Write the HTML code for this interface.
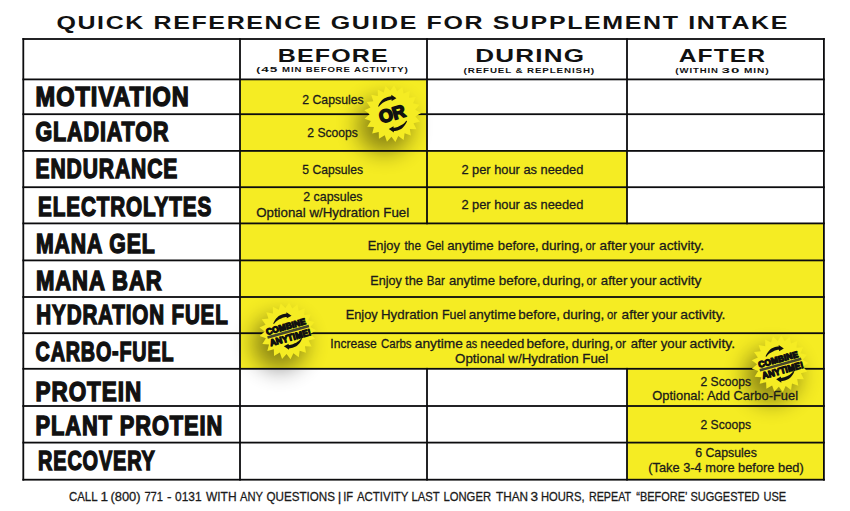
<!DOCTYPE html>
<html><head><meta charset="utf-8"><title>Quick Reference Guide for Supplement Intake</title>
<style>
html,body{margin:0;padding:0;background:#fff;width:850px;height:511px;overflow:hidden}
svg{display:block}
.lab{font-family:"Liberation Sans",sans-serif;font-weight:700;fill:#111;stroke:#111;stroke-width:1.5px;stroke-linejoin:miter}
.bod{font-family:"Liberation Sans",sans-serif;font-weight:400;fill:#1a1a1a;stroke:#1a1a1a;stroke-width:0.3px}
.hd{font-family:"Liberation Sans",sans-serif;font-weight:700;fill:#111}
.sub{font-family:"Liberation Sans",sans-serif;font-weight:700;fill:#111}
.bd{font-family:"Liberation Sans",sans-serif;font-weight:700;fill:#111}
</style></head><body>
<svg width="850" height="511" viewBox="0 0 850 511">
<defs>
<filter id="blur" x="-1" y="-1" width="3" height="3"><feGaussianBlur stdDeviation="11"/></filter>
</defs>
<rect x="0" y="0" width="850" height="511" fill="#fff"/>

<rect x="240.00" y="79.40" width="187.00" height="144.00" fill="#F5EC23"/>
<rect x="427.00" y="150.90" width="200.00" height="72.50" fill="#F5EC23"/>
<rect x="240.00" y="223.40" width="583.90" height="145.40" fill="#F5EC23"/>
<rect x="627.00" y="368.80" width="196.90" height="110.90" fill="#F5EC23"/>
<circle cx="384.6" cy="125.7" r="27" fill="#000" opacity="0.43" filter="url(#blur)"/>
<circle cx="279.7" cy="343.0" r="27" fill="#000" opacity="0.43" filter="url(#blur)"/>
<circle cx="772.0" cy="375.8" r="27" fill="#000" opacity="0.43" filter="url(#blur)"/>
<rect x="22.40" y="38.10" width="802.40" height="1.80" fill="#0c0c0e"/>
<rect x="22.40" y="78.50" width="802.40" height="1.80" fill="#0c0c0e"/>
<rect x="22.40" y="113.30" width="802.40" height="1.80" fill="#0c0c0e"/>
<rect x="22.40" y="150.00" width="802.40" height="1.80" fill="#0c0c0e"/>
<rect x="22.40" y="186.30" width="802.40" height="1.80" fill="#0c0c0e"/>
<rect x="22.40" y="222.50" width="802.40" height="1.80" fill="#0c0c0e"/>
<rect x="22.40" y="259.50" width="802.40" height="1.80" fill="#0c0c0e"/>
<rect x="22.40" y="296.10" width="802.40" height="1.80" fill="#0c0c0e"/>
<rect x="22.40" y="332.30" width="802.40" height="1.80" fill="#0c0c0e"/>
<rect x="22.40" y="367.90" width="802.40" height="1.80" fill="#0c0c0e"/>
<rect x="22.40" y="405.10" width="802.40" height="1.80" fill="#0c0c0e"/>
<rect x="22.40" y="441.70" width="802.40" height="1.80" fill="#0c0c0e"/>
<rect x="22.40" y="478.80" width="802.40" height="1.80" fill="#0c0c0e"/>
<rect x="22.40" y="38.10" width="1.80" height="442.50" fill="#0c0c0e"/>
<rect x="239.10" y="38.10" width="1.80" height="442.50" fill="#0c0c0e"/>
<rect x="426.10" y="38.10" width="1.80" height="186.20" fill="#0c0c0e"/>
<rect x="426.10" y="367.90" width="1.80" height="112.70" fill="#0c0c0e"/>
<rect x="626.10" y="38.10" width="1.80" height="186.20" fill="#0c0c0e"/>
<rect x="626.10" y="367.90" width="1.80" height="112.70" fill="#0c0c0e"/>
<rect x="823.00" y="38.10" width="1.80" height="442.50" fill="#0c0c0e"/>
<text id="title" class="hd" x="56.40" y="29.30" font-size="18.4" textLength="732.62" lengthAdjust="spacingAndGlyphs" letter-spacing="1.2">QUICK REFERENCE GUIDE FOR SUPPLEMENT INTAKE</text>
<text id="head0" class="hd" x="277.88" y="61.80" font-size="17.8" textLength="110.92" lengthAdjust="spacingAndGlyphs" letter-spacing="0.8">BEFORE</text>
<text id="head1" class="hd" x="475.31" y="61.80" font-size="17.8" textLength="109.84" lengthAdjust="spacingAndGlyphs" letter-spacing="0.8">DURING</text>
<text id="head2" class="hd" x="678.65" y="61.80" font-size="17.8" textLength="87.55" lengthAdjust="spacingAndGlyphs" letter-spacing="0.8">AFTER</text>
<text id="sub0a" class="sub" x="256.38" y="72.30" letter-spacing="0.6" textLength="22.01" lengthAdjust="spacingAndGlyphs"><tspan font-size="7.0">(</tspan><tspan font-size="8.0">45</tspan></text>
<text id="sub0b" class="sub" x="282.10" y="72.30" letter-spacing="0.6" textLength="126.73" lengthAdjust="spacingAndGlyphs"><tspan font-size="6.7">MIN BEFORE ACTIVITY</tspan><tspan font-size="7.0">)</tspan></text>
<text id="sub1" class="sub" x="463.48" y="72.50" letter-spacing="0.6" textLength="131.66" lengthAdjust="spacingAndGlyphs"><tspan font-size="7.0">(</tspan><tspan font-size="6.7">REFUEL &amp; REPLENISH</tspan><tspan font-size="7.0">)</tspan></text>
<text id="sub2a" class="sub" x="675.39" y="72.50" letter-spacing="0.6" textLength="43.27" lengthAdjust="spacingAndGlyphs"><tspan font-size="7.0">(</tspan><tspan font-size="6.7">WITHIN</tspan></text>
<text id="sub2b" class="sub" x="721.51" y="72.50" letter-spacing="0.6" textLength="18.98" lengthAdjust="spacingAndGlyphs"><tspan font-size="8.0">30</tspan></text>
<text id="sub2c" class="sub" x="744.08" y="72.50" letter-spacing="0.6" textLength="25.53" lengthAdjust="spacingAndGlyphs"><tspan font-size="6.7">MIN</tspan><tspan font-size="7.0">)</tspan></text>
<text id="lab0" class="lab" x="35.56" y="106.20" font-size="28.4" textLength="154.27" lengthAdjust="spacingAndGlyphs" letter-spacing="1.2">MOTIVATION</text>
<text id="lab1" class="lab" x="35.38" y="140.90" font-size="28.4" textLength="133.94" lengthAdjust="spacingAndGlyphs" letter-spacing="1.2">GLADIATOR</text>
<text id="lab2" class="lab" x="35.57" y="178.00" font-size="28.4" textLength="142.65" lengthAdjust="spacingAndGlyphs" letter-spacing="1.2">ENDURANCE</text>
<text id="lab3" class="lab" x="38.08" y="215.90" font-size="28.4" textLength="174.04" lengthAdjust="spacingAndGlyphs" letter-spacing="1.2">ELECTROLYTES</text>
<text id="lab4" class="lab" x="35.88" y="253.00" font-size="28.4" textLength="119.85" lengthAdjust="spacingAndGlyphs" letter-spacing="1.2">MANA GEL</text>
<text id="lab5" class="lab" x="35.88" y="290.20" font-size="28.4" textLength="126.75" lengthAdjust="spacingAndGlyphs" letter-spacing="1.2">MANA BAR</text>
<text id="lab6" class="lab" x="36.37" y="324.20" font-size="28.4" textLength="192.25" lengthAdjust="spacingAndGlyphs" letter-spacing="1.2">HYDRATION FUEL</text>
<text id="lab7" class="lab" x="35.58" y="360.60" font-size="28.4" textLength="138.75" lengthAdjust="spacingAndGlyphs" letter-spacing="1.2">CARBO-FUEL</text>
<text id="lab8" class="lab" x="35.55" y="400.50" font-size="28.4" textLength="106.57" lengthAdjust="spacingAndGlyphs" letter-spacing="1.2">PROTEIN</text>
<text id="lab9" class="lab" x="35.57" y="434.70" font-size="28.4" textLength="187.66" lengthAdjust="spacingAndGlyphs" letter-spacing="1.2">PLANT PROTEIN</text>
<text id="lab10" class="lab" x="38.07" y="470.10" font-size="28.4" textLength="117.66" lengthAdjust="spacingAndGlyphs" letter-spacing="1.2">RECOVERY</text>
<text id="bod0" class="bod" x="302.26" y="104.00" font-size="13.6" textLength="61.39" lengthAdjust="spacingAndGlyphs">2 Capsules</text>
<text id="bod1" class="bod" x="307.35" y="137.20" font-size="13.6" textLength="50.58" lengthAdjust="spacingAndGlyphs">2 Scoops</text>
<text id="bod2" class="bod" x="302.37" y="173.90" font-size="13.6" textLength="60.77" lengthAdjust="spacingAndGlyphs">5 Capsules</text>
<text id="bod3" class="bod" x="303.28" y="201.00" font-size="13.6" textLength="59.25" lengthAdjust="spacingAndGlyphs">2 capsules</text>
<text id="bod4" class="bod" x="256.20" y="216.60" font-size="13.6" textLength="153.01" lengthAdjust="spacingAndGlyphs">Optional w/Hydration Fuel</text>
<text id="bod5" class="bod" x="461.39" y="173.50" font-size="13.6" textLength="122.02" lengthAdjust="spacingAndGlyphs">2 per hour as needed</text>
<text id="bod6" class="bod" x="461.39" y="209.30" font-size="13.6" textLength="122.02" lengthAdjust="spacingAndGlyphs">2 per hour as needed</text>
<text id="bod11" class="bod" x="455.08" y="363.20" font-size="13.6" textLength="153.13" lengthAdjust="spacingAndGlyphs">Optional w/Hydration Fuel</text>
<text id="bod12" class="bod" x="700.46" y="385.60" font-size="13.6" textLength="50.54" lengthAdjust="spacingAndGlyphs">2 Scoops</text>
<text id="bod13" class="bod" x="652.29" y="400.20" font-size="13.6" textLength="145.82" lengthAdjust="spacingAndGlyphs">Optional: Add Carbo-Fuel</text>
<text id="bod14" class="bod" x="700.46" y="429.20" font-size="13.6" textLength="50.54" lengthAdjust="spacingAndGlyphs">2 Scoops</text>
<text id="bod15" class="bod" x="695.19" y="457.40" font-size="13.6" textLength="61.65" lengthAdjust="spacingAndGlyphs">6 Capsules</text>
<text id="bod16" class="bod" x="648.28" y="471.60" font-size="13.6" textLength="155.44" lengthAdjust="spacingAndGlyphs">(Take 3-4 more before bed)</text>
<text id="wg0" class="bod" x="367.72" y="250.10" font-size="13.6" textLength="32.17" lengthAdjust="spacingAndGlyphs">Enjoy</text>
<text id="wg1" class="bod" x="404.55" y="250.10" font-size="13.6" textLength="16.45" lengthAdjust="spacingAndGlyphs">the</text>
<text id="wg2" class="bod" x="426.11" y="250.10" font-size="13.6" textLength="17.80" lengthAdjust="spacingAndGlyphs">Gel</text>
<text id="wg3" class="bod" x="447.17" y="250.10" font-size="13.6" textLength="46.46" lengthAdjust="spacingAndGlyphs">anytime</text>
<text id="wg4" class="bod" x="497.86" y="250.10" font-size="13.6" textLength="40.81" lengthAdjust="spacingAndGlyphs">before,</text>
<text id="wg5" class="bod" x="541.45" y="250.10" font-size="13.6" textLength="41.58" lengthAdjust="spacingAndGlyphs">during,</text>
<text id="wg6" class="bod" x="585.60" y="250.10" font-size="13.6" textLength="9.92" lengthAdjust="spacingAndGlyphs">or</text>
<text id="wg7" class="bod" x="599.56" y="250.10" font-size="13.6" textLength="27.27" lengthAdjust="spacingAndGlyphs">after</text>
<text id="wg8" class="bod" x="629.46" y="250.10" font-size="13.6" textLength="25.19" lengthAdjust="spacingAndGlyphs">your</text>
<text id="wg9" class="bod" x="659.00" y="250.10" font-size="13.6" textLength="45.02" lengthAdjust="spacingAndGlyphs">activity.</text>
<text id="wb0" class="bod" x="370.36" y="284.70" font-size="13.6" textLength="31.44" lengthAdjust="spacingAndGlyphs">Enjoy</text>
<text id="wb1" class="bod" x="405.11" y="284.70" font-size="13.6" textLength="17.89" lengthAdjust="spacingAndGlyphs">the</text>
<text id="wb2" class="bod" x="426.87" y="284.70" font-size="13.6" textLength="17.89" lengthAdjust="spacingAndGlyphs">Bar</text>
<text id="wb3" class="bod" x="449.00" y="284.70" font-size="13.6" textLength="46.01" lengthAdjust="spacingAndGlyphs">anytime</text>
<text id="wb4" class="bod" x="498.74" y="284.70" font-size="13.6" textLength="41.83" lengthAdjust="spacingAndGlyphs">before,</text>
<text id="wb5" class="bod" x="542.36" y="284.70" font-size="13.6" textLength="42.01" lengthAdjust="spacingAndGlyphs">during,</text>
<text id="wb6" class="bod" x="586.61" y="284.70" font-size="13.6" textLength="9.85" lengthAdjust="spacingAndGlyphs">or</text>
<text id="wb7" class="bod" x="600.85" y="284.70" font-size="13.6" textLength="26.44" lengthAdjust="spacingAndGlyphs">after</text>
<text id="wb8" class="bod" x="630.34" y="284.70" font-size="13.6" textLength="26.23" lengthAdjust="spacingAndGlyphs">your</text>
<text id="wb9" class="bod" x="659.25" y="284.70" font-size="13.6" textLength="42.29" lengthAdjust="spacingAndGlyphs">activity</text>
<text id="wh0" class="bod" x="345.65" y="318.80" font-size="13.6" textLength="32.07" lengthAdjust="spacingAndGlyphs">Enjoy</text>
<text id="wh1" class="bod" x="380.98" y="318.80" font-size="13.6" textLength="57.09" lengthAdjust="spacingAndGlyphs">Hydration</text>
<text id="wh2" class="bod" x="441.90" y="318.80" font-size="13.6" textLength="24.19" lengthAdjust="spacingAndGlyphs">Fuel</text>
<text id="wh3" class="bod" x="468.75" y="318.80" font-size="13.6" textLength="47.20" lengthAdjust="spacingAndGlyphs">anytime</text>
<text id="wh4" class="bod" x="518.25" y="318.80" font-size="13.6" textLength="41.80" lengthAdjust="spacingAndGlyphs">before,</text>
<text id="wh5" class="bod" x="562.74" y="318.80" font-size="13.6" textLength="41.60" lengthAdjust="spacingAndGlyphs">during,</text>
<text id="wh6" class="bod" x="607.00" y="318.80" font-size="13.6" textLength="10.03" lengthAdjust="spacingAndGlyphs">or</text>
<text id="wh7" class="bod" x="621.56" y="318.80" font-size="13.6" textLength="27.27" lengthAdjust="spacingAndGlyphs">after</text>
<text id="wh8" class="bod" x="651.70" y="318.80" font-size="13.6" textLength="25.56" lengthAdjust="spacingAndGlyphs">your</text>
<text id="wh9" class="bod" x="680.27" y="318.80" font-size="13.6" textLength="45.16" lengthAdjust="spacingAndGlyphs">activity.</text>
<text id="wc0" class="bod" x="330.37" y="348.00" font-size="13.6" textLength="46.35" lengthAdjust="spacingAndGlyphs">Increase</text>
<text id="wc1" class="bod" x="381.00" y="348.00" font-size="13.6" textLength="30.55" lengthAdjust="spacingAndGlyphs">Carbs</text>
<text id="wc2" class="bod" x="414.76" y="348.00" font-size="13.6" textLength="48.11" lengthAdjust="spacingAndGlyphs">anytime</text>
<text id="wc3" class="bod" x="465.75" y="348.00" font-size="13.6" textLength="11.37" lengthAdjust="spacingAndGlyphs">as</text>
<text id="wc4" class="bod" x="480.25" y="348.00" font-size="13.6" textLength="44.00" lengthAdjust="spacingAndGlyphs">needed</text>
<text id="wc5" class="bod" x="526.45" y="348.00" font-size="13.6" textLength="42.30" lengthAdjust="spacingAndGlyphs">before,</text>
<text id="wc6" class="bod" x="571.68" y="348.00" font-size="13.6" textLength="41.58" lengthAdjust="spacingAndGlyphs">during,</text>
<text id="wc7" class="bod" x="615.28" y="348.00" font-size="13.6" textLength="10.69" lengthAdjust="spacingAndGlyphs">or</text>
<text id="wc8" class="bod" x="630.69" y="348.00" font-size="13.6" textLength="26.26" lengthAdjust="spacingAndGlyphs">after</text>
<text id="wc9" class="bod" x="660.72" y="348.00" font-size="13.6" textLength="25.64" lengthAdjust="spacingAndGlyphs">your</text>
<text id="wc10" class="bod" x="689.54" y="348.00" font-size="13.6" textLength="45.63" lengthAdjust="spacingAndGlyphs">activity.</text>
<text id="foot0" class="bod" x="68.93" y="501.10" font-size="13.6" textLength="28.58" lengthAdjust="spacingAndGlyphs">CALL</text>
<text id="foot1" class="bod" x="100.41" y="501.10" font-size="13.6">1</text>
<text id="foot2" class="bod" x="110.41" y="501.10" font-size="13.6" textLength="30.15" lengthAdjust="spacingAndGlyphs">(800)</text>
<text id="foot3" class="bod" x="144.41" y="501.10" font-size="13.6" textLength="18.63" lengthAdjust="spacingAndGlyphs">771</text>
<text id="foot4" class="bod" x="167.07" y="501.10" font-size="13.6">-</text>
<text id="foot5" class="bod" x="175.00" y="501.10" font-size="13.6" textLength="26.57" lengthAdjust="spacingAndGlyphs">0131</text>
<text id="foot6" class="bod" x="205.96" y="501.10" font-size="13.6" textLength="30.57" lengthAdjust="spacingAndGlyphs">WITH</text>
<text id="foot7" class="bod" x="240.00" y="501.10" font-size="13.6" textLength="23.08" lengthAdjust="spacingAndGlyphs">ANY</text>
<text id="foot8" class="bod" x="266.48" y="501.10" font-size="13.6" textLength="68.52" lengthAdjust="spacingAndGlyphs">QUESTIONS</text>
<text id="foot9" class="bod" x="337.77" y="501.10" font-size="13.6">|</text>
<text id="foot10" class="bod" x="343.25" y="501.10" font-size="13.6" textLength="9.88" lengthAdjust="spacingAndGlyphs">IF</text>
<text id="foot11" class="bod" x="356.96" y="501.10" font-size="13.6" textLength="51.55" lengthAdjust="spacingAndGlyphs">ACTIVITY</text>
<text id="foot12" class="bod" x="411.46" y="501.10" font-size="13.6" textLength="28.11" lengthAdjust="spacingAndGlyphs">LAST</text>
<text id="foot13" class="bod" x="443.47" y="501.10" font-size="13.6" textLength="47.57" lengthAdjust="spacingAndGlyphs">LONGER</text>
<text id="foot14" class="bod" x="495.97" y="501.10" font-size="13.6" textLength="32.06" lengthAdjust="spacingAndGlyphs">THAN</text>
<text id="foot15" class="bod" x="530.51" y="501.10" font-size="13.6">3</text>
<text id="foot16" class="bod" x="540.98" y="501.10" font-size="13.6" textLength="43.57" lengthAdjust="spacingAndGlyphs">HOURS,</text>
<text id="foot17" class="bod" x="588.93" y="501.10" font-size="13.6" textLength="42.12" lengthAdjust="spacingAndGlyphs">REPEAT</text>
<text id="foot18" class="bod" x="636.30" y="501.10" font-size="13.6" textLength="51.13" lengthAdjust="spacingAndGlyphs">“BEFORE’</text>
<text id="foot19" class="bod" x="690.48" y="501.10" font-size="13.6" textLength="69.05" lengthAdjust="spacingAndGlyphs">SUGGESTED</text>
<text id="foot20" class="bod" x="763.45" y="501.10" font-size="13.6" textLength="22.66" lengthAdjust="spacingAndGlyphs">USE</text>
<g transform="translate(392.6,113.7)"><polygon points="1.42,-28.46 4.56,-22.54 9.75,-26.78 11.00,-20.20 17.21,-22.72 16.47,-16.06 23.14,-16.63 20.47,-10.49 27.02,-9.07 22.65,-3.99 28.49,-0.71 22.82,2.86 27.43,7.72 20.96,9.46 23.94,15.47 17.24,15.22 18.32,21.83 11.99,19.63 11.07,26.26 5.67,22.29 2.83,28.36 -1.15,22.97 -5.65,27.93 -7.87,21.61 -13.63,25.03 -13.89,18.33 -20.40,19.90 -18.68,13.42 -25.36,13.00 -21.80,7.32 -28.07,4.95 -22.99,0.57 -28.28,-3.55 -22.14,-6.23 -25.98,-11.73 -19.32,-12.48 -21.37,-18.86 -14.78,-17.62 -14.86,-24.32 -8.93,-21.20 -7.03,-27.62 -2.29,-22.89" fill="#F5EC23"/><path d="M-14.45,-7.36 L-14.00,-8.48 L-13.47,-9.58 L-12.85,-10.65 L-12.15,-11.67 L-11.36,-12.65 L-10.50,-13.58 L-9.56,-14.45 L-8.54,-15.22 L-7.39,-15.81 L-6.21,-16.31 L-5.00,-16.72 L-3.76,-17.04 L-2.49,-17.27 L-1.22,-17.41 L-1.32,-18.85 L3.82,-15.33 L-0.89,-12.67 L-0.99,-14.12 L-2.02,-14.00 L-3.05,-13.82 L-4.05,-13.56 L-5.04,-13.22 L-6.00,-12.82 L-6.92,-12.34 L-7.88,-11.90 L-8.83,-11.42 L-9.75,-10.86 L-10.64,-10.22 L-11.48,-9.51 L-12.28,-8.74 L-13.02,-7.89 L-13.71,-6.99 Z" fill="#111"/><path d="M14.45,7.36 L14.00,8.48 L13.47,9.58 L12.85,10.65 L12.15,11.67 L11.36,12.65 L10.50,13.58 L9.56,14.45 L8.54,15.22 L7.39,15.81 L6.21,16.31 L5.00,16.72 L3.76,17.04 L2.49,17.27 L1.22,17.41 L1.32,18.85 L-3.82,15.33 L0.89,12.67 L0.99,14.12 L2.02,14.00 L3.05,13.82 L4.05,13.56 L5.04,13.22 L6.00,12.82 L6.92,12.34 L7.88,11.90 L8.83,11.42 L9.75,10.86 L10.64,10.22 L11.48,9.51 L12.28,8.74 L13.02,7.89 L13.71,6.99 Z" fill="#111"/><g transform="rotate(-16)"><text class="bd" x="-0.5" y="6.2" font-size="17.8" text-anchor="middle" textLength="26.8" lengthAdjust="spacingAndGlyphs" stroke="#111" stroke-width="1.6" stroke-linejoin="round">OR</text></g></g>
<g transform="translate(287.7,331.0)"><polygon points="1.42,-28.46 4.56,-22.54 9.75,-26.78 11.00,-20.20 17.21,-22.72 16.47,-16.06 23.14,-16.63 20.47,-10.49 27.02,-9.07 22.65,-3.99 28.49,-0.71 22.82,2.86 27.43,7.72 20.96,9.46 23.94,15.47 17.24,15.22 18.32,21.83 11.99,19.63 11.07,26.26 5.67,22.29 2.83,28.36 -1.15,22.97 -5.65,27.93 -7.87,21.61 -13.63,25.03 -13.89,18.33 -20.40,19.90 -18.68,13.42 -25.36,13.00 -21.80,7.32 -28.07,4.95 -22.99,0.57 -28.28,-3.55 -22.14,-6.23 -25.98,-11.73 -19.32,-12.48 -21.37,-18.86 -14.78,-17.62 -14.86,-24.32 -8.93,-21.20 -7.03,-27.62 -2.29,-22.89" fill="#F5EC23"/><path d="M-14.45,-7.36 L-14.00,-8.48 L-13.47,-9.58 L-12.85,-10.65 L-12.15,-11.67 L-11.36,-12.65 L-10.50,-13.58 L-9.56,-14.45 L-8.54,-15.22 L-7.39,-15.81 L-6.21,-16.31 L-5.00,-16.72 L-3.76,-17.04 L-2.49,-17.27 L-1.22,-17.41 L-1.32,-18.85 L3.82,-15.33 L-0.89,-12.67 L-0.99,-14.12 L-2.02,-14.00 L-3.05,-13.82 L-4.05,-13.56 L-5.04,-13.22 L-6.00,-12.82 L-6.92,-12.34 L-7.88,-11.90 L-8.83,-11.42 L-9.75,-10.86 L-10.64,-10.22 L-11.48,-9.51 L-12.28,-8.74 L-13.02,-7.89 L-13.71,-6.99 Z" fill="#111"/><path d="M14.45,7.36 L14.00,8.48 L13.47,9.58 L12.85,10.65 L12.15,11.67 L11.36,12.65 L10.50,13.58 L9.56,14.45 L8.54,15.22 L7.39,15.81 L6.21,16.31 L5.00,16.72 L3.76,17.04 L2.49,17.27 L1.22,17.41 L1.32,18.85 L-3.82,15.33 L0.89,12.67 L0.99,14.12 L2.02,14.00 L3.05,13.82 L4.05,13.56 L5.04,13.22 L6.00,12.82 L6.92,12.34 L7.88,11.90 L8.83,11.42 L9.75,10.86 L10.64,10.22 L11.48,9.51 L12.28,8.74 L13.02,7.89 L13.71,6.99 Z" fill="#111"/><g transform="rotate(-15.5)"><text class="bd" x="-0.6" y="-1.7" font-size="8.7" text-anchor="middle" textLength="41" lengthAdjust="spacingAndGlyphs" stroke="#111" stroke-width="1.2" stroke-linejoin="round">COMBINE</text><rect x="-21.2" y="-0.4" width="43" height="2.6" fill="#44442e"/><text class="bd" x="0.8" y="10.2" font-size="9.3" text-anchor="middle" textLength="42.5" lengthAdjust="spacingAndGlyphs" stroke="#111" stroke-width="1.2" stroke-linejoin="round">ANYTIME!</text></g></g>
<g transform="translate(780.0,363.8)"><polygon points="1.42,-28.46 4.56,-22.54 9.75,-26.78 11.00,-20.20 17.21,-22.72 16.47,-16.06 23.14,-16.63 20.47,-10.49 27.02,-9.07 22.65,-3.99 28.49,-0.71 22.82,2.86 27.43,7.72 20.96,9.46 23.94,15.47 17.24,15.22 18.32,21.83 11.99,19.63 11.07,26.26 5.67,22.29 2.83,28.36 -1.15,22.97 -5.65,27.93 -7.87,21.61 -13.63,25.03 -13.89,18.33 -20.40,19.90 -18.68,13.42 -25.36,13.00 -21.80,7.32 -28.07,4.95 -22.99,0.57 -28.28,-3.55 -22.14,-6.23 -25.98,-11.73 -19.32,-12.48 -21.37,-18.86 -14.78,-17.62 -14.86,-24.32 -8.93,-21.20 -7.03,-27.62 -2.29,-22.89" fill="#F5EC23"/><path d="M-14.45,-7.36 L-14.00,-8.48 L-13.47,-9.58 L-12.85,-10.65 L-12.15,-11.67 L-11.36,-12.65 L-10.50,-13.58 L-9.56,-14.45 L-8.54,-15.22 L-7.39,-15.81 L-6.21,-16.31 L-5.00,-16.72 L-3.76,-17.04 L-2.49,-17.27 L-1.22,-17.41 L-1.32,-18.85 L3.82,-15.33 L-0.89,-12.67 L-0.99,-14.12 L-2.02,-14.00 L-3.05,-13.82 L-4.05,-13.56 L-5.04,-13.22 L-6.00,-12.82 L-6.92,-12.34 L-7.88,-11.90 L-8.83,-11.42 L-9.75,-10.86 L-10.64,-10.22 L-11.48,-9.51 L-12.28,-8.74 L-13.02,-7.89 L-13.71,-6.99 Z" fill="#111"/><path d="M14.45,7.36 L14.00,8.48 L13.47,9.58 L12.85,10.65 L12.15,11.67 L11.36,12.65 L10.50,13.58 L9.56,14.45 L8.54,15.22 L7.39,15.81 L6.21,16.31 L5.00,16.72 L3.76,17.04 L2.49,17.27 L1.22,17.41 L1.32,18.85 L-3.82,15.33 L0.89,12.67 L0.99,14.12 L2.02,14.00 L3.05,13.82 L4.05,13.56 L5.04,13.22 L6.00,12.82 L6.92,12.34 L7.88,11.90 L8.83,11.42 L9.75,10.86 L10.64,10.22 L11.48,9.51 L12.28,8.74 L13.02,7.89 L13.71,6.99 Z" fill="#111"/><g transform="rotate(-15.5)"><text class="bd" x="-0.6" y="-1.7" font-size="8.7" text-anchor="middle" textLength="41" lengthAdjust="spacingAndGlyphs" stroke="#111" stroke-width="1.2" stroke-linejoin="round">COMBINE</text><rect x="-21.2" y="-0.4" width="43" height="2.6" fill="#44442e"/><text class="bd" x="0.8" y="10.2" font-size="9.3" text-anchor="middle" textLength="42.5" lengthAdjust="spacingAndGlyphs" stroke="#111" stroke-width="1.2" stroke-linejoin="round">ANYTIME!</text></g></g>
</svg></body></html>
